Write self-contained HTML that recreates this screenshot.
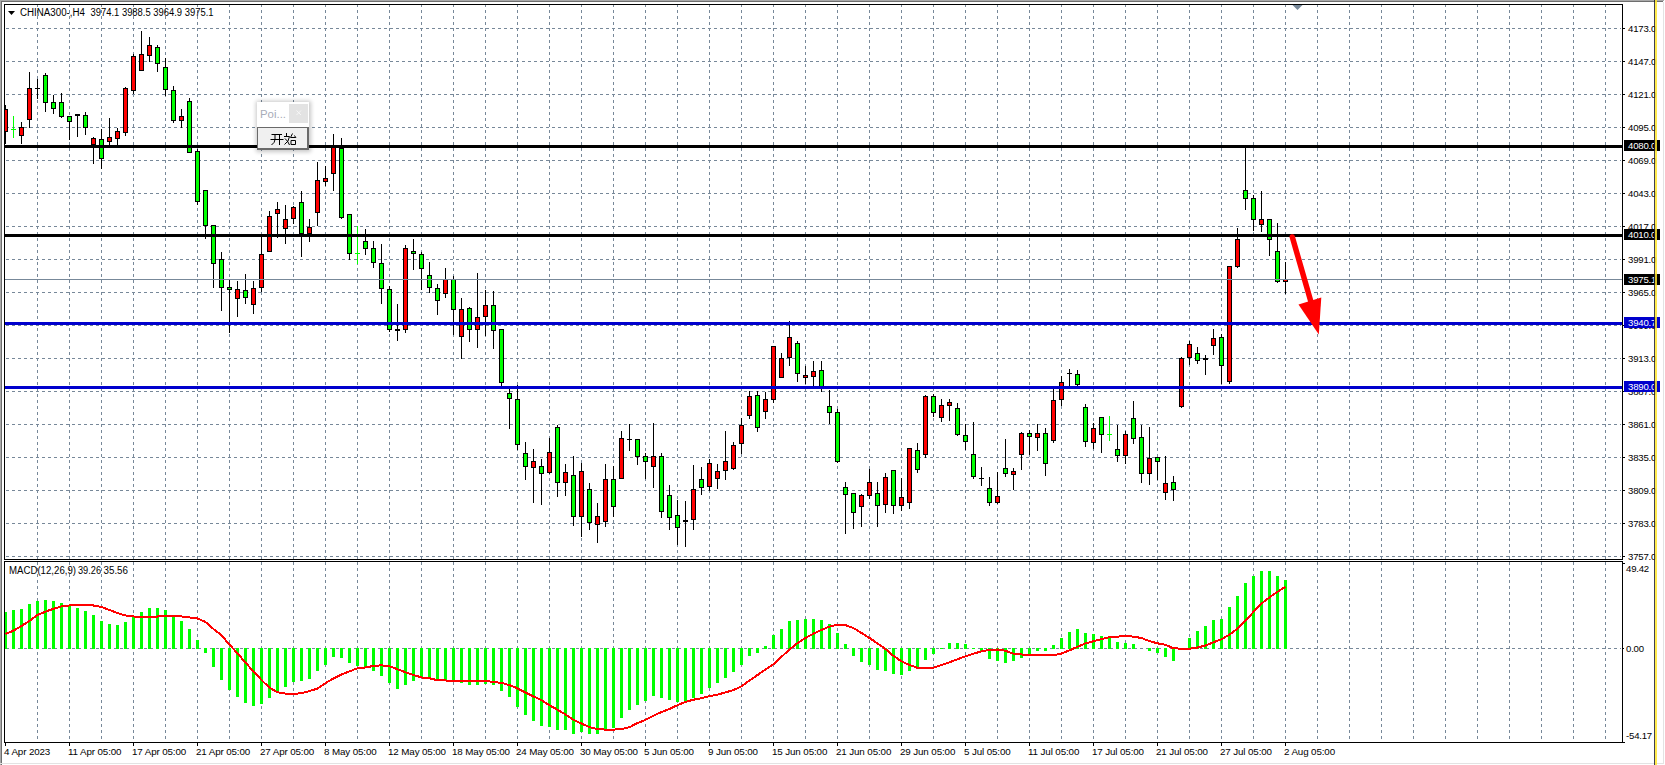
<!DOCTYPE html><html><head><meta charset="utf-8"><style>html,body{margin:0;padding:0;background:#fff;overflow:hidden}</style></head><body><svg width="1665" height="765" viewBox="0 0 1665 765" shape-rendering="crispEdges" style="display:block">
<rect x="0" y="0" width="1665" height="765" fill="#ffffff"/>
<rect x="0" y="0" width="1664" height="1" fill="#a9a9a9"/>
<rect x="0" y="1" width="1663" height="1" fill="#6e6e6e"/>
<rect x="0" y="0" width="1" height="765" fill="#a9a9a9"/>
<rect x="1" y="1" width="1" height="764" fill="#6e6e6e"/>
<rect x="1663" y="2" width="1" height="762" fill="#e3e3e3"/>
<rect x="0" y="763" width="1664" height="1" fill="#e3e3e3"/>
<path d="M37.5 4V559M69.5 4V559M101.5 4V559M133.5 4V559M165.5 4V559M197.5 4V559M229.5 4V559M261.5 4V559M293.5 4V559M325.5 4V559M357.5 4V559M389.5 4V559M421.5 4V559M453.5 4V559M485.5 4V559M517.5 4V559M549.5 4V559M581.5 4V559M613.5 4V559M645.5 4V559M677.5 4V559M709.5 4V559M741.5 4V559M773.5 4V559M805.5 4V559M837.5 4V559M869.5 4V559M901.5 4V559M933.5 4V559M965.5 4V559M997.5 4V559M1029.5 4V559M1061.5 4V559M1093.5 4V559M1125.5 4V559M1157.5 4V559M1189.5 4V559M1221.5 4V559M1253.5 4V559M1285.5 4V559M1317.5 4V559M1349.5 4V559M1381.5 4V559M1413.5 4V559M1445.5 4V559M1477.5 4V559M1509.5 4V559M1541.5 4V559M1573.5 4V559M1605.5 4V559" stroke="#778899" stroke-width="1" stroke-dasharray="3 3" fill="none"/>
<path d="M37.5 562V742M69.5 562V742M101.5 562V742M133.5 562V742M165.5 562V742M197.5 562V742M229.5 562V742M261.5 562V742M293.5 562V742M325.5 562V742M357.5 562V742M389.5 562V742M421.5 562V742M453.5 562V742M485.5 562V742M517.5 562V742M549.5 562V742M581.5 562V742M613.5 562V742M645.5 562V742M677.5 562V742M709.5 562V742M741.5 562V742M773.5 562V742M805.5 562V742M837.5 562V742M869.5 562V742M901.5 562V742M933.5 562V742M965.5 562V742M997.5 562V742M1029.5 562V742M1061.5 562V742M1093.5 562V742M1125.5 562V742M1157.5 562V742M1189.5 562V742M1221.5 562V742M1253.5 562V742M1285.5 562V742M1317.5 562V742M1349.5 562V742M1381.5 562V742M1413.5 562V742M1445.5 562V742M1477.5 562V742M1509.5 562V742M1541.5 562V742M1573.5 562V742M1605.5 562V742" stroke="#778899" stroke-width="1" stroke-dasharray="3 3" fill="none"/>
<clipPath id="cm"><rect x="5" y="5" width="1617" height="554"/></clipPath>
<clipPath id="cd"><rect x="5" y="562" width="1617" height="180"/></clipPath>
<g clip-path="url(#cm)"><path d="M0 28.5H1621M0 61.5H1621M0 94.5H1621M0 127.5H1621M0 160.5H1621M0 193.5H1621M0 226.5H1621M0 259.5H1621M0 292.5H1621M0 325.5H1621M0 358.5H1621M0 391.5H1621M0 424.5H1621M0 457.5H1621M0 490.5H1621M0 523.5H1621M0 556.5H1621" stroke="#778899" stroke-width="1" stroke-dasharray="3 3" fill="none"/></g>
<g clip-path="url(#cd)"><path d="M0 648.5H1621" stroke="#778899" stroke-width="1" stroke-dasharray="3 3" fill="none"/></g>
<g clip-path="url(#cm)"><rect x="5" y="105" width="1" height="39" fill="#000"/><rect x="3" y="109" width="5" height="23" fill="#000"/><rect x="4" y="110" width="3" height="21" fill="#ff0000"/><rect x="13" y="116" width="1" height="22" fill="#00ff00"/><rect x="11" y="129" width="5" height="1" fill="#00ff00"/><rect x="21" y="122" width="1" height="22" fill="#000"/><rect x="19" y="127" width="5" height="9" fill="#000"/><rect x="20" y="128" width="3" height="7" fill="#ff0000"/><rect x="29" y="72" width="1" height="56" fill="#000"/><rect x="27" y="88" width="5" height="32" fill="#000"/><rect x="28" y="89" width="3" height="30" fill="#ff0000"/><rect x="37" y="79" width="1" height="20" fill="#000"/><rect x="35" y="88" width="5" height="1" fill="#000"/><rect x="45" y="73" width="1" height="39" fill="#000"/><rect x="43" y="75" width="5" height="28" fill="#000"/><rect x="44" y="76" width="3" height="26" fill="#00ff00"/><rect x="53" y="95" width="1" height="19" fill="#000"/><rect x="51" y="102" width="5" height="7" fill="#000"/><rect x="52" y="103" width="3" height="5" fill="#00ff00"/><rect x="61" y="93" width="1" height="25" fill="#000"/><rect x="59" y="102" width="5" height="15" fill="#000"/><rect x="60" y="103" width="3" height="13" fill="#00ff00"/><rect x="69" y="116" width="1" height="24" fill="#000"/><rect x="67" y="116" width="5" height="6" fill="#000"/><rect x="68" y="117" width="3" height="4" fill="#00ff00"/><rect x="77" y="114" width="1" height="23" fill="#000"/><rect x="75" y="114" width="5" height="2" fill="#000"/><rect x="85" y="112" width="1" height="23" fill="#000"/><rect x="83" y="115" width="5" height="13" fill="#000"/><rect x="84" y="116" width="3" height="11" fill="#00ff00"/><rect x="93" y="137" width="1" height="27" fill="#000"/><rect x="91" y="138" width="5" height="7" fill="#000"/><rect x="92" y="139" width="3" height="5" fill="#ff0000"/><rect x="101" y="129" width="1" height="40" fill="#000"/><rect x="99" y="139" width="5" height="20" fill="#000"/><rect x="100" y="140" width="3" height="18" fill="#00ff00"/><rect x="109" y="118" width="1" height="28" fill="#000"/><rect x="107" y="137" width="5" height="5" fill="#000"/><rect x="108" y="138" width="3" height="3" fill="#ff0000"/><rect x="117" y="128" width="1" height="18" fill="#000"/><rect x="115" y="131" width="5" height="8" fill="#000"/><rect x="116" y="132" width="3" height="6" fill="#ff0000"/><rect x="125" y="87" width="1" height="49" fill="#000"/><rect x="123" y="88" width="5" height="45" fill="#000"/><rect x="124" y="89" width="3" height="43" fill="#ff0000"/><rect x="133" y="54" width="1" height="40" fill="#000"/><rect x="131" y="56" width="5" height="35" fill="#000"/><rect x="132" y="57" width="3" height="33" fill="#ff0000"/><rect x="141" y="31" width="1" height="40" fill="#000"/><rect x="139" y="54" width="5" height="17" fill="#000"/><rect x="140" y="55" width="3" height="15" fill="#ff0000"/><rect x="149" y="37" width="1" height="25" fill="#000"/><rect x="147" y="45" width="5" height="11" fill="#000"/><rect x="148" y="46" width="3" height="9" fill="#ff0000"/><rect x="157" y="45" width="1" height="27" fill="#000"/><rect x="155" y="47" width="5" height="17" fill="#000"/><rect x="156" y="48" width="3" height="15" fill="#00ff00"/><rect x="165" y="58" width="1" height="38" fill="#000"/><rect x="163" y="67" width="5" height="23" fill="#000"/><rect x="164" y="68" width="3" height="21" fill="#00ff00"/><rect x="173" y="86" width="1" height="37" fill="#000"/><rect x="171" y="90" width="5" height="31" fill="#000"/><rect x="172" y="91" width="3" height="29" fill="#00ff00"/><rect x="181" y="109" width="1" height="19" fill="#000"/><rect x="179" y="116" width="5" height="5" fill="#000"/><rect x="180" y="117" width="3" height="3" fill="#ff0000"/><rect x="189" y="98" width="1" height="55" fill="#000"/><rect x="187" y="101" width="5" height="52" fill="#000"/><rect x="188" y="102" width="3" height="50" fill="#00ff00"/><rect x="197" y="149" width="1" height="56" fill="#000"/><rect x="195" y="151" width="5" height="51" fill="#000"/><rect x="196" y="152" width="3" height="49" fill="#00ff00"/><rect x="205" y="190" width="1" height="49" fill="#000"/><rect x="203" y="190" width="5" height="36" fill="#000"/><rect x="204" y="191" width="3" height="34" fill="#00ff00"/><rect x="213" y="225" width="1" height="63" fill="#000"/><rect x="211" y="225" width="5" height="39" fill="#000"/><rect x="212" y="226" width="3" height="37" fill="#00ff00"/><rect x="221" y="252" width="1" height="59" fill="#000"/><rect x="219" y="259" width="5" height="29" fill="#000"/><rect x="220" y="260" width="3" height="27" fill="#00ff00"/><rect x="229" y="280" width="1" height="53" fill="#000"/><rect x="227" y="287" width="5" height="3" fill="#000"/><rect x="228" y="288" width="3" height="1" fill="#00ff00"/><rect x="237" y="281" width="1" height="36" fill="#000"/><rect x="235" y="289" width="5" height="10" fill="#000"/><rect x="236" y="290" width="3" height="8" fill="#ff0000"/><rect x="245" y="274" width="1" height="30" fill="#000"/><rect x="243" y="290" width="5" height="8" fill="#000"/><rect x="244" y="291" width="3" height="6" fill="#00ff00"/><rect x="253" y="281" width="1" height="33" fill="#000"/><rect x="251" y="288" width="5" height="17" fill="#000"/><rect x="252" y="289" width="3" height="15" fill="#ff0000"/><rect x="261" y="236" width="1" height="56" fill="#000"/><rect x="259" y="254" width="5" height="34" fill="#000"/><rect x="260" y="255" width="3" height="32" fill="#ff0000"/><rect x="269" y="211" width="1" height="41" fill="#000"/><rect x="267" y="216" width="5" height="36" fill="#000"/><rect x="268" y="217" width="3" height="34" fill="#ff0000"/><rect x="277" y="202" width="1" height="36" fill="#000"/><rect x="275" y="209" width="5" height="5" fill="#000"/><rect x="276" y="210" width="3" height="3" fill="#ff0000"/><rect x="285" y="205" width="1" height="39" fill="#000"/><rect x="283" y="219" width="5" height="10" fill="#000"/><rect x="284" y="220" width="3" height="8" fill="#ff0000"/><rect x="293" y="206" width="1" height="18" fill="#000"/><rect x="291" y="207" width="5" height="12" fill="#000"/><rect x="292" y="208" width="3" height="10" fill="#ff0000"/><rect x="301" y="191" width="1" height="66" fill="#000"/><rect x="299" y="202" width="5" height="32" fill="#000"/><rect x="300" y="203" width="3" height="30" fill="#00ff00"/><rect x="309" y="219" width="1" height="23" fill="#000"/><rect x="307" y="227" width="5" height="7" fill="#000"/><rect x="308" y="228" width="3" height="5" fill="#ff0000"/><rect x="317" y="162" width="1" height="64" fill="#000"/><rect x="315" y="180" width="5" height="33" fill="#000"/><rect x="316" y="181" width="3" height="31" fill="#ff0000"/><rect x="325" y="166" width="1" height="20" fill="#000"/><rect x="323" y="178" width="5" height="4" fill="#000"/><rect x="324" y="179" width="3" height="2" fill="#ff0000"/><rect x="333" y="134" width="1" height="57" fill="#000"/><rect x="331" y="147" width="5" height="27" fill="#000"/><rect x="332" y="148" width="3" height="25" fill="#ff0000"/><rect x="341" y="138" width="1" height="81" fill="#000"/><rect x="339" y="148" width="5" height="70" fill="#000"/><rect x="340" y="149" width="3" height="68" fill="#00ff00"/><rect x="349" y="214" width="1" height="46" fill="#000"/><rect x="347" y="214" width="5" height="40" fill="#000"/><rect x="348" y="215" width="3" height="38" fill="#00ff00"/><rect x="357" y="226" width="1" height="38" fill="#00ff00"/><rect x="355" y="253" width="5" height="1" fill="#00ff00"/><rect x="365" y="229" width="1" height="26" fill="#000"/><rect x="363" y="241" width="5" height="8" fill="#000"/><rect x="364" y="242" width="3" height="6" fill="#00ff00"/><rect x="373" y="241" width="1" height="27" fill="#000"/><rect x="371" y="248" width="5" height="15" fill="#000"/><rect x="372" y="249" width="3" height="13" fill="#00ff00"/><rect x="381" y="244" width="1" height="60" fill="#000"/><rect x="379" y="263" width="5" height="26" fill="#000"/><rect x="380" y="264" width="3" height="24" fill="#00ff00"/><rect x="389" y="286" width="1" height="46" fill="#000"/><rect x="387" y="289" width="5" height="41" fill="#000"/><rect x="388" y="290" width="3" height="39" fill="#00ff00"/><rect x="397" y="304" width="1" height="37" fill="#000"/><rect x="395" y="329" width="5" height="2" fill="#000"/><rect x="405" y="245" width="1" height="88" fill="#000"/><rect x="403" y="248" width="5" height="82" fill="#000"/><rect x="404" y="249" width="3" height="80" fill="#ff0000"/><rect x="413" y="239" width="1" height="31" fill="#000"/><rect x="411" y="251" width="5" height="3" fill="#000"/><rect x="412" y="252" width="3" height="1" fill="#00ff00"/><rect x="421" y="252" width="1" height="38" fill="#000"/><rect x="419" y="254" width="5" height="15" fill="#000"/><rect x="420" y="255" width="3" height="13" fill="#00ff00"/><rect x="429" y="262" width="1" height="31" fill="#000"/><rect x="427" y="275" width="5" height="13" fill="#000"/><rect x="428" y="276" width="3" height="11" fill="#00ff00"/><rect x="437" y="284" width="1" height="31" fill="#000"/><rect x="435" y="288" width="5" height="13" fill="#000"/><rect x="436" y="289" width="3" height="11" fill="#00ff00"/><rect x="445" y="268" width="1" height="30" fill="#000"/><rect x="443" y="279" width="5" height="15" fill="#000"/><rect x="444" y="280" width="3" height="13" fill="#ff0000"/><rect x="453" y="276" width="1" height="59" fill="#000"/><rect x="451" y="279" width="5" height="31" fill="#000"/><rect x="452" y="280" width="3" height="29" fill="#00ff00"/><rect x="461" y="298" width="1" height="61" fill="#000"/><rect x="459" y="309" width="5" height="28" fill="#000"/><rect x="460" y="310" width="3" height="26" fill="#ff0000"/><rect x="469" y="307" width="1" height="35" fill="#000"/><rect x="467" y="308" width="5" height="22" fill="#000"/><rect x="468" y="309" width="3" height="20" fill="#00ff00"/><rect x="477" y="273" width="1" height="75" fill="#000"/><rect x="475" y="317" width="5" height="13" fill="#000"/><rect x="476" y="318" width="3" height="11" fill="#ff0000"/><rect x="485" y="290" width="1" height="46" fill="#000"/><rect x="483" y="305" width="5" height="12" fill="#000"/><rect x="484" y="306" width="3" height="10" fill="#ff0000"/><rect x="493" y="291" width="1" height="58" fill="#000"/><rect x="491" y="305" width="5" height="26" fill="#000"/><rect x="492" y="306" width="3" height="24" fill="#00ff00"/><rect x="501" y="329" width="1" height="57" fill="#000"/><rect x="499" y="329" width="5" height="54" fill="#000"/><rect x="500" y="330" width="3" height="52" fill="#00ff00"/><rect x="509" y="386" width="1" height="43" fill="#000"/><rect x="507" y="393" width="5" height="6" fill="#000"/><rect x="508" y="394" width="3" height="4" fill="#00ff00"/><rect x="517" y="385" width="1" height="65" fill="#000"/><rect x="515" y="399" width="5" height="46" fill="#000"/><rect x="516" y="400" width="3" height="44" fill="#00ff00"/><rect x="525" y="442" width="1" height="38" fill="#000"/><rect x="523" y="453" width="5" height="14" fill="#000"/><rect x="524" y="454" width="3" height="12" fill="#00ff00"/><rect x="533" y="449" width="1" height="54" fill="#000"/><rect x="531" y="461" width="5" height="7" fill="#000"/><rect x="532" y="462" width="3" height="5" fill="#ff0000"/><rect x="541" y="459" width="1" height="46" fill="#000"/><rect x="539" y="466" width="5" height="8" fill="#000"/><rect x="540" y="467" width="3" height="6" fill="#00ff00"/><rect x="549" y="438" width="1" height="36" fill="#000"/><rect x="547" y="452" width="5" height="21" fill="#000"/><rect x="548" y="453" width="3" height="19" fill="#ff0000"/><rect x="557" y="425" width="1" height="72" fill="#000"/><rect x="555" y="427" width="5" height="56" fill="#000"/><rect x="556" y="428" width="3" height="54" fill="#00ff00"/><rect x="565" y="464" width="1" height="32" fill="#000"/><rect x="563" y="472" width="5" height="11" fill="#000"/><rect x="564" y="473" width="3" height="9" fill="#ff0000"/><rect x="573" y="456" width="1" height="70" fill="#000"/><rect x="571" y="475" width="5" height="42" fill="#000"/><rect x="572" y="476" width="3" height="40" fill="#00ff00"/><rect x="581" y="463" width="1" height="74" fill="#000"/><rect x="579" y="471" width="5" height="46" fill="#000"/><rect x="580" y="472" width="3" height="44" fill="#ff0000"/><rect x="589" y="483" width="1" height="47" fill="#000"/><rect x="587" y="489" width="5" height="34" fill="#000"/><rect x="588" y="490" width="3" height="32" fill="#00ff00"/><rect x="597" y="503" width="1" height="40" fill="#000"/><rect x="595" y="516" width="5" height="9" fill="#000"/><rect x="596" y="517" width="3" height="7" fill="#ff0000"/><rect x="605" y="464" width="1" height="63" fill="#000"/><rect x="603" y="479" width="5" height="43" fill="#000"/><rect x="604" y="480" width="3" height="41" fill="#ff0000"/><rect x="613" y="466" width="1" height="51" fill="#000"/><rect x="611" y="479" width="5" height="28" fill="#000"/><rect x="612" y="480" width="3" height="26" fill="#00ff00"/><rect x="621" y="431" width="1" height="48" fill="#000"/><rect x="619" y="438" width="5" height="41" fill="#000"/><rect x="620" y="439" width="3" height="39" fill="#ff0000"/><rect x="629" y="424" width="1" height="27" fill="#000"/><rect x="627" y="439" width="5" height="1" fill="#000"/><rect x="637" y="439" width="1" height="26" fill="#000"/><rect x="635" y="439" width="5" height="18" fill="#000"/><rect x="636" y="440" width="3" height="16" fill="#00ff00"/><rect x="645" y="453" width="1" height="26" fill="#000"/><rect x="643" y="456" width="5" height="6" fill="#000"/><rect x="644" y="457" width="3" height="4" fill="#00ff00"/><rect x="653" y="423" width="1" height="65" fill="#000"/><rect x="651" y="456" width="5" height="11" fill="#000"/><rect x="652" y="457" width="3" height="9" fill="#ff0000"/><rect x="661" y="453" width="1" height="65" fill="#000"/><rect x="659" y="456" width="5" height="56" fill="#000"/><rect x="660" y="457" width="3" height="54" fill="#00ff00"/><rect x="669" y="485" width="1" height="45" fill="#000"/><rect x="667" y="495" width="5" height="23" fill="#000"/><rect x="668" y="496" width="3" height="21" fill="#00ff00"/><rect x="677" y="500" width="1" height="45" fill="#000"/><rect x="675" y="515" width="5" height="13" fill="#000"/><rect x="676" y="516" width="3" height="11" fill="#00ff00"/><rect x="685" y="501" width="1" height="46" fill="#000"/><rect x="683" y="520" width="5" height="2" fill="#000"/><rect x="693" y="465" width="1" height="65" fill="#000"/><rect x="691" y="489" width="5" height="31" fill="#000"/><rect x="692" y="490" width="3" height="29" fill="#ff0000"/><rect x="701" y="467" width="1" height="28" fill="#000"/><rect x="699" y="479" width="5" height="9" fill="#000"/><rect x="700" y="480" width="3" height="7" fill="#00ff00"/><rect x="709" y="459" width="1" height="32" fill="#000"/><rect x="707" y="463" width="5" height="24" fill="#000"/><rect x="708" y="464" width="3" height="22" fill="#ff0000"/><rect x="717" y="464" width="1" height="25" fill="#000"/><rect x="715" y="471" width="5" height="8" fill="#000"/><rect x="716" y="472" width="3" height="6" fill="#ff0000"/><rect x="725" y="431" width="1" height="49" fill="#000"/><rect x="723" y="461" width="5" height="10" fill="#000"/><rect x="724" y="462" width="3" height="8" fill="#ff0000"/><rect x="733" y="442" width="1" height="28" fill="#000"/><rect x="731" y="445" width="5" height="24" fill="#000"/><rect x="732" y="446" width="3" height="22" fill="#ff0000"/><rect x="741" y="418" width="1" height="36" fill="#000"/><rect x="739" y="425" width="5" height="19" fill="#000"/><rect x="740" y="426" width="3" height="17" fill="#ff0000"/><rect x="749" y="391" width="1" height="28" fill="#000"/><rect x="747" y="396" width="5" height="20" fill="#000"/><rect x="748" y="397" width="3" height="18" fill="#ff0000"/><rect x="757" y="391" width="1" height="41" fill="#000"/><rect x="755" y="395" width="5" height="33" fill="#000"/><rect x="756" y="396" width="3" height="31" fill="#00ff00"/><rect x="765" y="392" width="1" height="27" fill="#000"/><rect x="763" y="399" width="5" height="13" fill="#000"/><rect x="764" y="400" width="3" height="11" fill="#ff0000"/><rect x="773" y="346" width="1" height="57" fill="#000"/><rect x="771" y="346" width="5" height="54" fill="#000"/><rect x="772" y="347" width="3" height="52" fill="#ff0000"/><rect x="781" y="353" width="1" height="25" fill="#000"/><rect x="779" y="358" width="5" height="20" fill="#000"/><rect x="780" y="359" width="3" height="18" fill="#ff0000"/><rect x="789" y="321" width="1" height="45" fill="#000"/><rect x="787" y="337" width="5" height="21" fill="#000"/><rect x="788" y="338" width="3" height="19" fill="#ff0000"/><rect x="797" y="341" width="1" height="41" fill="#000"/><rect x="795" y="343" width="5" height="31" fill="#000"/><rect x="796" y="344" width="3" height="29" fill="#00ff00"/><rect x="805" y="366" width="1" height="18" fill="#000"/><rect x="803" y="375" width="5" height="3" fill="#000"/><rect x="804" y="376" width="3" height="1" fill="#ff0000"/><rect x="813" y="361" width="1" height="27" fill="#000"/><rect x="811" y="371" width="5" height="6" fill="#000"/><rect x="812" y="372" width="3" height="4" fill="#ff0000"/><rect x="821" y="361" width="1" height="31" fill="#000"/><rect x="819" y="370" width="5" height="17" fill="#000"/><rect x="820" y="371" width="3" height="15" fill="#00ff00"/><rect x="829" y="390" width="1" height="34" fill="#000"/><rect x="827" y="406" width="5" height="7" fill="#000"/><rect x="828" y="407" width="3" height="5" fill="#00ff00"/><rect x="837" y="409" width="1" height="54" fill="#000"/><rect x="835" y="412" width="5" height="50" fill="#000"/><rect x="836" y="413" width="3" height="48" fill="#00ff00"/><rect x="845" y="482" width="1" height="52" fill="#000"/><rect x="843" y="487" width="5" height="8" fill="#000"/><rect x="844" y="488" width="3" height="6" fill="#00ff00"/><rect x="853" y="493" width="1" height="36" fill="#000"/><rect x="851" y="493" width="5" height="20" fill="#000"/><rect x="852" y="494" width="3" height="18" fill="#00ff00"/><rect x="861" y="494" width="1" height="33" fill="#000"/><rect x="859" y="495" width="5" height="12" fill="#000"/><rect x="860" y="496" width="3" height="10" fill="#ff0000"/><rect x="869" y="469" width="1" height="30" fill="#000"/><rect x="867" y="482" width="5" height="14" fill="#000"/><rect x="868" y="483" width="3" height="12" fill="#ff0000"/><rect x="877" y="482" width="1" height="45" fill="#000"/><rect x="875" y="493" width="5" height="13" fill="#000"/><rect x="876" y="494" width="3" height="11" fill="#00ff00"/><rect x="885" y="473" width="1" height="40" fill="#000"/><rect x="883" y="477" width="5" height="28" fill="#000"/><rect x="884" y="478" width="3" height="26" fill="#ff0000"/><rect x="893" y="470" width="1" height="44" fill="#000"/><rect x="891" y="470" width="5" height="36" fill="#000"/><rect x="892" y="471" width="3" height="34" fill="#00ff00"/><rect x="901" y="478" width="1" height="33" fill="#000"/><rect x="899" y="497" width="5" height="9" fill="#000"/><rect x="900" y="498" width="3" height="7" fill="#ff0000"/><rect x="909" y="448" width="1" height="61" fill="#000"/><rect x="907" y="448" width="5" height="55" fill="#000"/><rect x="908" y="449" width="3" height="53" fill="#ff0000"/><rect x="917" y="443" width="1" height="30" fill="#000"/><rect x="915" y="450" width="5" height="20" fill="#000"/><rect x="916" y="451" width="3" height="18" fill="#00ff00"/><rect x="925" y="395" width="1" height="63" fill="#000"/><rect x="923" y="396" width="5" height="59" fill="#000"/><rect x="924" y="397" width="3" height="57" fill="#ff0000"/><rect x="933" y="394" width="1" height="23" fill="#000"/><rect x="931" y="396" width="5" height="17" fill="#000"/><rect x="932" y="397" width="3" height="15" fill="#00ff00"/><rect x="941" y="399" width="1" height="23" fill="#000"/><rect x="939" y="405" width="5" height="13" fill="#000"/><rect x="940" y="406" width="3" height="11" fill="#ff0000"/><rect x="949" y="399" width="1" height="22" fill="#000"/><rect x="947" y="402" width="5" height="4" fill="#000"/><rect x="948" y="403" width="3" height="2" fill="#ff0000"/><rect x="957" y="403" width="1" height="33" fill="#000"/><rect x="955" y="408" width="5" height="27" fill="#000"/><rect x="956" y="409" width="3" height="25" fill="#00ff00"/><rect x="965" y="424" width="1" height="26" fill="#000"/><rect x="963" y="435" width="5" height="7" fill="#000"/><rect x="964" y="436" width="3" height="5" fill="#00ff00"/><rect x="973" y="422" width="1" height="57" fill="#000"/><rect x="971" y="454" width="5" height="23" fill="#000"/><rect x="972" y="455" width="3" height="21" fill="#00ff00"/><rect x="981" y="467" width="1" height="19" fill="#000"/><rect x="979" y="478" width="5" height="1" fill="#000"/><rect x="989" y="477" width="1" height="29" fill="#000"/><rect x="987" y="488" width="5" height="15" fill="#000"/><rect x="988" y="489" width="3" height="13" fill="#00ff00"/><rect x="997" y="472" width="1" height="32" fill="#000"/><rect x="995" y="496" width="5" height="7" fill="#000"/><rect x="996" y="497" width="3" height="5" fill="#ff0000"/><rect x="1005" y="439" width="1" height="38" fill="#000"/><rect x="1003" y="468" width="5" height="6" fill="#000"/><rect x="1004" y="469" width="3" height="4" fill="#00ff00"/><rect x="1013" y="468" width="1" height="22" fill="#000"/><rect x="1011" y="471" width="5" height="4" fill="#000"/><rect x="1012" y="472" width="3" height="2" fill="#ff0000"/><rect x="1021" y="432" width="1" height="38" fill="#000"/><rect x="1019" y="433" width="5" height="22" fill="#000"/><rect x="1020" y="434" width="3" height="20" fill="#ff0000"/><rect x="1029" y="430" width="1" height="25" fill="#000"/><rect x="1027" y="433" width="5" height="4" fill="#000"/><rect x="1028" y="434" width="3" height="2" fill="#00ff00"/><rect x="1037" y="424" width="1" height="27" fill="#000"/><rect x="1035" y="433" width="5" height="5" fill="#000"/><rect x="1036" y="434" width="3" height="3" fill="#ff0000"/><rect x="1045" y="428" width="1" height="48" fill="#000"/><rect x="1043" y="433" width="5" height="31" fill="#000"/><rect x="1044" y="434" width="3" height="29" fill="#00ff00"/><rect x="1053" y="388" width="1" height="55" fill="#000"/><rect x="1051" y="400" width="5" height="41" fill="#000"/><rect x="1052" y="401" width="3" height="39" fill="#ff0000"/><rect x="1061" y="376" width="1" height="30" fill="#000"/><rect x="1059" y="382" width="5" height="18" fill="#000"/><rect x="1060" y="383" width="3" height="16" fill="#ff0000"/><rect x="1069" y="369" width="1" height="18" fill="#000"/><rect x="1067" y="373" width="5" height="1" fill="#000"/><rect x="1077" y="370" width="1" height="17" fill="#000"/><rect x="1075" y="374" width="5" height="11" fill="#000"/><rect x="1076" y="375" width="3" height="9" fill="#00ff00"/><rect x="1085" y="404" width="1" height="43" fill="#000"/><rect x="1083" y="407" width="5" height="35" fill="#000"/><rect x="1084" y="408" width="3" height="33" fill="#00ff00"/><rect x="1093" y="423" width="1" height="26" fill="#000"/><rect x="1091" y="428" width="5" height="15" fill="#000"/><rect x="1092" y="429" width="3" height="13" fill="#ff0000"/><rect x="1101" y="417" width="1" height="36" fill="#000"/><rect x="1099" y="417" width="5" height="18" fill="#000"/><rect x="1100" y="418" width="3" height="16" fill="#00ff00"/><rect x="1109" y="416" width="1" height="25" fill="#00ff00"/><rect x="1107" y="434" width="5" height="1" fill="#00ff00"/><rect x="1117" y="425" width="1" height="37" fill="#000"/><rect x="1115" y="449" width="5" height="7" fill="#000"/><rect x="1116" y="450" width="3" height="5" fill="#00ff00"/><rect x="1125" y="431" width="1" height="33" fill="#000"/><rect x="1123" y="434" width="5" height="22" fill="#000"/><rect x="1124" y="435" width="3" height="20" fill="#ff0000"/><rect x="1133" y="401" width="1" height="43" fill="#000"/><rect x="1131" y="418" width="5" height="21" fill="#000"/><rect x="1132" y="419" width="3" height="19" fill="#00ff00"/><rect x="1141" y="425" width="1" height="58" fill="#000"/><rect x="1139" y="437" width="5" height="37" fill="#000"/><rect x="1140" y="438" width="3" height="35" fill="#00ff00"/><rect x="1149" y="427" width="1" height="58" fill="#000"/><rect x="1147" y="458" width="5" height="16" fill="#000"/><rect x="1148" y="459" width="3" height="14" fill="#ff0000"/><rect x="1157" y="457" width="1" height="23" fill="#000"/><rect x="1155" y="457" width="5" height="5" fill="#000"/><rect x="1156" y="458" width="3" height="3" fill="#00ff00"/><rect x="1165" y="456" width="1" height="44" fill="#000"/><rect x="1163" y="483" width="5" height="10" fill="#000"/><rect x="1164" y="484" width="3" height="8" fill="#ff0000"/><rect x="1173" y="476" width="1" height="25" fill="#000"/><rect x="1171" y="482" width="5" height="8" fill="#000"/><rect x="1172" y="483" width="3" height="6" fill="#00ff00"/><rect x="1181" y="357" width="1" height="51" fill="#000"/><rect x="1179" y="358" width="5" height="49" fill="#000"/><rect x="1180" y="359" width="3" height="47" fill="#ff0000"/><rect x="1189" y="341" width="1" height="24" fill="#000"/><rect x="1187" y="344" width="5" height="14" fill="#000"/><rect x="1188" y="345" width="3" height="12" fill="#ff0000"/><rect x="1197" y="347" width="1" height="17" fill="#000"/><rect x="1195" y="353" width="5" height="8" fill="#000"/><rect x="1196" y="354" width="3" height="6" fill="#00ff00"/><rect x="1205" y="355" width="1" height="20" fill="#000"/><rect x="1203" y="358" width="5" height="2" fill="#000"/><rect x="1213" y="329" width="1" height="26" fill="#000"/><rect x="1211" y="338" width="5" height="8" fill="#000"/><rect x="1212" y="339" width="3" height="6" fill="#ff0000"/><rect x="1221" y="334" width="1" height="50" fill="#000"/><rect x="1219" y="337" width="5" height="29" fill="#000"/><rect x="1220" y="338" width="3" height="27" fill="#00ff00"/><rect x="1229" y="266" width="1" height="118" fill="#000"/><rect x="1227" y="266" width="5" height="116" fill="#000"/><rect x="1228" y="267" width="3" height="114" fill="#ff0000"/><rect x="1237" y="228" width="1" height="40" fill="#000"/><rect x="1235" y="239" width="5" height="28" fill="#000"/><rect x="1236" y="240" width="3" height="26" fill="#ff0000"/><rect x="1245" y="147" width="1" height="63" fill="#000"/><rect x="1243" y="190" width="5" height="9" fill="#000"/><rect x="1244" y="191" width="3" height="7" fill="#00ff00"/><rect x="1253" y="195" width="1" height="36" fill="#000"/><rect x="1251" y="198" width="5" height="22" fill="#000"/><rect x="1252" y="199" width="3" height="20" fill="#00ff00"/><rect x="1261" y="191" width="1" height="41" fill="#000"/><rect x="1259" y="219" width="5" height="6" fill="#000"/><rect x="1260" y="220" width="3" height="4" fill="#ff0000"/><rect x="1269" y="219" width="1" height="37" fill="#000"/><rect x="1267" y="219" width="5" height="21" fill="#000"/><rect x="1268" y="220" width="3" height="19" fill="#00ff00"/><rect x="1277" y="223" width="1" height="60" fill="#000"/><rect x="1275" y="251" width="5" height="31" fill="#000"/><rect x="1276" y="252" width="3" height="29" fill="#00ff00"/><rect x="1285" y="262" width="1" height="32" fill="#000"/><rect x="1283" y="279" width="5" height="3" fill="#000"/><rect x="1284" y="280" width="3" height="1" fill="#ff0000"/></g>
<rect x="5" y="145" width="1617" height="3" fill="#000"/>
<rect x="5" y="234" width="1617" height="3" fill="#000"/>
<rect x="5" y="279" width="1617" height="1" fill="#778899"/>
<rect x="5" y="322" width="1617" height="3" fill="#0000cd"/>
<rect x="5" y="386" width="1617" height="3" fill="#0000cd"/>
<g shape-rendering="geometricPrecision"><path d="M1292.3 237 L1311 302" stroke="#ff0000" stroke-width="5.5" stroke-linecap="round" fill="none"/><path d="M1298.5 304.5 L1318.8 334.5 L1321.3 297.5 Z" fill="#ff0000"/></g>
<g clip-path="url(#cd)"><rect x="4" y="612" width="3" height="37" fill="#00ff00"/><rect x="12" y="610" width="3" height="39" fill="#00ff00"/><rect x="20" y="609" width="3" height="40" fill="#00ff00"/><rect x="28" y="604" width="3" height="45" fill="#00ff00"/><rect x="36" y="601" width="3" height="48" fill="#00ff00"/><rect x="44" y="600" width="3" height="49" fill="#00ff00"/><rect x="52" y="601" width="3" height="48" fill="#00ff00"/><rect x="60" y="603" width="3" height="46" fill="#00ff00"/><rect x="68" y="605" width="3" height="44" fill="#00ff00"/><rect x="76" y="608" width="3" height="41" fill="#00ff00"/><rect x="84" y="611" width="3" height="38" fill="#00ff00"/><rect x="92" y="615" width="3" height="34" fill="#00ff00"/><rect x="100" y="621" width="3" height="28" fill="#00ff00"/><rect x="108" y="624" width="3" height="25" fill="#00ff00"/><rect x="116" y="625" width="3" height="24" fill="#00ff00"/><rect x="124" y="622" width="3" height="27" fill="#00ff00"/><rect x="132" y="617" width="3" height="32" fill="#00ff00"/><rect x="140" y="612" width="3" height="37" fill="#00ff00"/><rect x="148" y="608" width="3" height="41" fill="#00ff00"/><rect x="156" y="608" width="3" height="41" fill="#00ff00"/><rect x="164" y="610" width="3" height="39" fill="#00ff00"/><rect x="172" y="617" width="3" height="32" fill="#00ff00"/><rect x="180" y="621" width="3" height="28" fill="#00ff00"/><rect x="188" y="629" width="3" height="20" fill="#00ff00"/><rect x="196" y="640" width="3" height="9" fill="#00ff00"/><rect x="204" y="648" width="3" height="5" fill="#00ff00"/><rect x="212" y="648" width="3" height="19" fill="#00ff00"/><rect x="220" y="648" width="3" height="32" fill="#00ff00"/><rect x="228" y="648" width="3" height="42" fill="#00ff00"/><rect x="236" y="648" width="3" height="49" fill="#00ff00"/><rect x="244" y="648" width="3" height="55" fill="#00ff00"/><rect x="252" y="648" width="3" height="58" fill="#00ff00"/><rect x="260" y="648" width="3" height="56" fill="#00ff00"/><rect x="268" y="648" width="3" height="50" fill="#00ff00"/><rect x="276" y="648" width="3" height="43" fill="#00ff00"/><rect x="284" y="648" width="3" height="39" fill="#00ff00"/><rect x="292" y="648" width="3" height="34" fill="#00ff00"/><rect x="300" y="648" width="3" height="33" fill="#00ff00"/><rect x="308" y="648" width="3" height="31" fill="#00ff00"/><rect x="316" y="648" width="3" height="23" fill="#00ff00"/><rect x="324" y="648" width="3" height="17" fill="#00ff00"/><rect x="332" y="648" width="3" height="9" fill="#00ff00"/><rect x="340" y="648" width="3" height="10" fill="#00ff00"/><rect x="348" y="648" width="3" height="15" fill="#00ff00"/><rect x="356" y="648" width="3" height="18" fill="#00ff00"/><rect x="364" y="648" width="3" height="19" fill="#00ff00"/><rect x="372" y="648" width="3" height="23" fill="#00ff00"/><rect x="380" y="648" width="3" height="28" fill="#00ff00"/><rect x="388" y="648" width="3" height="35" fill="#00ff00"/><rect x="396" y="648" width="3" height="41" fill="#00ff00"/><rect x="404" y="648" width="3" height="37" fill="#00ff00"/><rect x="412" y="648" width="3" height="33" fill="#00ff00"/><rect x="420" y="648" width="3" height="30" fill="#00ff00"/><rect x="428" y="648" width="3" height="31" fill="#00ff00"/><rect x="436" y="648" width="3" height="33" fill="#00ff00"/><rect x="444" y="648" width="3" height="33" fill="#00ff00"/><rect x="452" y="648" width="3" height="33" fill="#00ff00"/><rect x="460" y="648" width="3" height="35" fill="#00ff00"/><rect x="468" y="648" width="3" height="37" fill="#00ff00"/><rect x="476" y="648" width="3" height="37" fill="#00ff00"/><rect x="484" y="648" width="3" height="36" fill="#00ff00"/><rect x="492" y="648" width="3" height="37" fill="#00ff00"/><rect x="500" y="648" width="3" height="43" fill="#00ff00"/><rect x="508" y="648" width="3" height="49" fill="#00ff00"/><rect x="516" y="648" width="3" height="59" fill="#00ff00"/><rect x="524" y="648" width="3" height="67" fill="#00ff00"/><rect x="532" y="648" width="3" height="73" fill="#00ff00"/><rect x="540" y="648" width="3" height="78" fill="#00ff00"/><rect x="548" y="648" width="3" height="79" fill="#00ff00"/><rect x="556" y="648" width="3" height="82" fill="#00ff00"/><rect x="564" y="648" width="3" height="82" fill="#00ff00"/><rect x="572" y="648" width="3" height="86" fill="#00ff00"/><rect x="580" y="648" width="3" height="84" fill="#00ff00"/><rect x="588" y="648" width="3" height="86" fill="#00ff00"/><rect x="596" y="648" width="3" height="86" fill="#00ff00"/><rect x="604" y="648" width="3" height="81" fill="#00ff00"/><rect x="612" y="648" width="3" height="80" fill="#00ff00"/><rect x="620" y="648" width="3" height="70" fill="#00ff00"/><rect x="628" y="648" width="3" height="62" fill="#00ff00"/><rect x="636" y="648" width="3" height="57" fill="#00ff00"/><rect x="644" y="648" width="3" height="53" fill="#00ff00"/><rect x="652" y="648" width="3" height="48" fill="#00ff00"/><rect x="660" y="648" width="3" height="50" fill="#00ff00"/><rect x="668" y="648" width="3" height="52" fill="#00ff00"/><rect x="676" y="648" width="3" height="54" fill="#00ff00"/><rect x="684" y="648" width="3" height="53" fill="#00ff00"/><rect x="692" y="648" width="3" height="50" fill="#00ff00"/><rect x="700" y="648" width="3" height="46" fill="#00ff00"/><rect x="708" y="648" width="3" height="40" fill="#00ff00"/><rect x="716" y="648" width="3" height="35" fill="#00ff00"/><rect x="724" y="648" width="3" height="30" fill="#00ff00"/><rect x="732" y="648" width="3" height="24" fill="#00ff00"/><rect x="740" y="648" width="3" height="17" fill="#00ff00"/><rect x="748" y="648" width="3" height="8" fill="#00ff00"/><rect x="756" y="648" width="3" height="5" fill="#00ff00"/><rect x="764" y="646" width="3" height="3" fill="#00ff00"/><rect x="772" y="635" width="3" height="14" fill="#00ff00"/><rect x="780" y="629" width="3" height="20" fill="#00ff00"/><rect x="788" y="621" width="3" height="28" fill="#00ff00"/><rect x="796" y="620" width="3" height="29" fill="#00ff00"/><rect x="804" y="619" width="3" height="30" fill="#00ff00"/><rect x="812" y="619" width="3" height="30" fill="#00ff00"/><rect x="820" y="620" width="3" height="29" fill="#00ff00"/><rect x="828" y="624" width="3" height="25" fill="#00ff00"/><rect x="836" y="633" width="3" height="16" fill="#00ff00"/><rect x="844" y="644" width="3" height="5" fill="#00ff00"/><rect x="852" y="648" width="3" height="8" fill="#00ff00"/><rect x="860" y="648" width="3" height="14" fill="#00ff00"/><rect x="868" y="648" width="3" height="17" fill="#00ff00"/><rect x="876" y="648" width="3" height="22" fill="#00ff00"/><rect x="884" y="648" width="3" height="23" fill="#00ff00"/><rect x="892" y="648" width="3" height="26" fill="#00ff00"/><rect x="900" y="648" width="3" height="27" fill="#00ff00"/><rect x="908" y="648" width="3" height="23" fill="#00ff00"/><rect x="916" y="648" width="3" height="20" fill="#00ff00"/><rect x="924" y="648" width="3" height="12" fill="#00ff00"/><rect x="932" y="648" width="3" height="6" fill="#00ff00"/><rect x="940" y="648" width="3" height="1" fill="#00ff00"/><rect x="948" y="643" width="3" height="6" fill="#00ff00"/><rect x="956" y="643" width="3" height="6" fill="#00ff00"/><rect x="964" y="644" width="3" height="5" fill="#00ff00"/><rect x="972" y="648" width="3" height="1" fill="#00ff00"/><rect x="980" y="648" width="3" height="4" fill="#00ff00"/><rect x="988" y="648" width="3" height="11" fill="#00ff00"/><rect x="996" y="648" width="3" height="13" fill="#00ff00"/><rect x="1004" y="648" width="3" height="15" fill="#00ff00"/><rect x="1012" y="648" width="3" height="13" fill="#00ff00"/><rect x="1020" y="648" width="3" height="10" fill="#00ff00"/><rect x="1028" y="648" width="3" height="6" fill="#00ff00"/><rect x="1036" y="648" width="3" height="3" fill="#00ff00"/><rect x="1044" y="648" width="3" height="3" fill="#00ff00"/><rect x="1052" y="645" width="3" height="4" fill="#00ff00"/><rect x="1060" y="638" width="3" height="11" fill="#00ff00"/><rect x="1068" y="632" width="3" height="17" fill="#00ff00"/><rect x="1076" y="629" width="3" height="20" fill="#00ff00"/><rect x="1084" y="633" width="3" height="16" fill="#00ff00"/><rect x="1092" y="634" width="3" height="15" fill="#00ff00"/><rect x="1100" y="636" width="3" height="13" fill="#00ff00"/><rect x="1108" y="638" width="3" height="11" fill="#00ff00"/><rect x="1116" y="642" width="3" height="7" fill="#00ff00"/><rect x="1124" y="643" width="3" height="6" fill="#00ff00"/><rect x="1132" y="644" width="3" height="5" fill="#00ff00"/><rect x="1148" y="648" width="3" height="3" fill="#00ff00"/><rect x="1156" y="648" width="3" height="5" fill="#00ff00"/><rect x="1164" y="648" width="3" height="9" fill="#00ff00"/><rect x="1172" y="648" width="3" height="13" fill="#00ff00"/><rect x="1188" y="638" width="3" height="11" fill="#00ff00"/><rect x="1196" y="631" width="3" height="18" fill="#00ff00"/><rect x="1204" y="626" width="3" height="23" fill="#00ff00"/><rect x="1212" y="620" width="3" height="29" fill="#00ff00"/><rect x="1220" y="619" width="3" height="30" fill="#00ff00"/><rect x="1228" y="607" width="3" height="42" fill="#00ff00"/><rect x="1236" y="596" width="3" height="53" fill="#00ff00"/><rect x="1244" y="583" width="3" height="66" fill="#00ff00"/><rect x="1252" y="576" width="3" height="73" fill="#00ff00"/><rect x="1260" y="571" width="3" height="78" fill="#00ff00"/><rect x="1268" y="571" width="3" height="78" fill="#00ff00"/><rect x="1276" y="576" width="3" height="73" fill="#00ff00"/><rect x="1284" y="580" width="3" height="69" fill="#00ff00"/></g>
<g clip-path="url(#cd)"><polyline points="5.5,634 13.5,630.6 21.5,626 29.5,620.8 37.5,615 45.5,611.6 53.5,608.8 61.5,606.4 69.5,605.5 77.5,605 85.5,605 93.5,605.5 101.5,607 109.5,610 117.5,613 125.5,615.5 133.5,616.5 141.5,616.5 149.5,616.5 157.5,616.5 165.5,616 173.5,616 181.5,616.5 189.5,617.5 197.5,618.5 205.5,622 213.5,629 221.5,635.3 229.5,644.7 237.5,653.3 245.5,662.7 253.5,671.4 261.5,680 269.5,687.8 277.5,692.2 285.5,693.6 293.5,693.8 301.5,693.3 309.5,691 317.5,688.6 325.5,683.1 333.5,678.4 341.5,674.5 349.5,671.4 357.5,668.2 365.5,667.5 373.5,665.9 381.5,665.3 389.5,666.3 397.5,669.2 405.5,672.3 413.5,675 421.5,677.4 429.5,678.3 437.5,680.2 445.5,680.5 453.5,680.5 461.5,680.5 469.5,680.5 477.5,680.5 485.5,680.9 493.5,682 501.5,682.9 509.5,685.1 517.5,688.4 525.5,692.4 533.5,696.4 541.5,700.3 549.5,705.2 557.5,709.8 565.5,714.4 573.5,719.9 581.5,723.5 589.5,727.2 597.5,729 605.5,729.6 613.5,729.6 621.5,729 629.5,727.2 637.5,723 645.5,719.9 653.5,715.7 661.5,712 669.5,708.9 677.5,705.2 685.5,701.9 693.5,699.7 701.5,698.3 709.5,696.1 717.5,694.6 725.5,692.4 733.5,690 741.5,686.4 749.5,680.5 757.5,675 765.5,669.5 773.5,664.1 781.5,656.8 789.5,649.5 797.5,643.1 805.5,638 813.5,633.6 821.5,629.9 829.5,626.6 837.5,624.8 845.5,625.1 853.5,628.1 861.5,633 869.5,638 877.5,643.4 885.5,649.1 893.5,655.9 901.5,661.4 909.5,665 917.5,667.8 925.5,667.8 933.5,667.8 941.5,665 949.5,662.3 957.5,659.3 965.5,656.3 973.5,653.7 981.5,651.3 989.5,650 997.5,649.5 1005.5,650.8 1013.5,653.7 1021.5,654.4 1029.5,655.3 1037.5,655.3 1045.5,655.3 1053.5,655.3 1061.5,653.5 1069.5,650.4 1077.5,646.7 1085.5,643.4 1093.5,641.2 1101.5,639 1109.5,637.2 1117.5,636.7 1125.5,635.8 1133.5,636.7 1141.5,638 1149.5,641.2 1157.5,643.3 1165.5,644.8 1173.5,648.3 1181.5,648.7 1189.5,648.7 1197.5,647.5 1205.5,645.5 1213.5,642.3 1221.5,639.3 1229.5,634.5 1237.5,628.7 1245.5,620.8 1253.5,611.9 1261.5,603.6 1269.5,597.3 1277.5,591.8 1285.5,586.8" stroke="#ff0000" stroke-width="2" fill="none" shape-rendering="crispEdges" stroke-linejoin="round"/></g>
<rect x="4.5" y="4.5" width="1618" height="555" stroke="#000" fill="none"/>
<rect x="4.5" y="561.5" width="1618" height="181" stroke="#000" fill="none"/>
<path d="M1292.5 5H1302.5L1297.5 10Z" fill="#778899" shape-rendering="geometricPrecision"/>
<g style="font-family:'Liberation Sans',sans-serif;font-size:9.6px;letter-spacing:-0.2px" fill="#000" shape-rendering="geometricPrecision"><rect x="1623" y="28" width="2" height="1" fill="#000"/><text x="1628" y="32">4173.0</text><rect x="1623" y="61" width="2" height="1" fill="#000"/><text x="1628" y="65">4147.0</text><rect x="1623" y="94" width="2" height="1" fill="#000"/><text x="1628" y="98">4121.0</text><rect x="1623" y="127" width="2" height="1" fill="#000"/><text x="1628" y="131">4095.0</text><rect x="1623" y="160" width="2" height="1" fill="#000"/><text x="1628" y="164">4069.0</text><rect x="1623" y="193" width="2" height="1" fill="#000"/><text x="1628" y="197">4043.0</text><rect x="1623" y="226" width="2" height="1" fill="#000"/><text x="1628" y="230">4017.0</text><rect x="1623" y="259" width="2" height="1" fill="#000"/><text x="1628" y="263">3991.0</text><rect x="1623" y="292" width="2" height="1" fill="#000"/><text x="1628" y="296">3965.0</text><rect x="1623" y="325" width="2" height="1" fill="#000"/><text x="1628" y="329">3939.0</text><rect x="1623" y="358" width="2" height="1" fill="#000"/><text x="1628" y="362">3913.0</text><rect x="1623" y="391" width="2" height="1" fill="#000"/><text x="1628" y="395">3887.0</text><rect x="1623" y="424" width="2" height="1" fill="#000"/><text x="1628" y="428">3861.0</text><rect x="1623" y="457" width="2" height="1" fill="#000"/><text x="1628" y="461">3835.0</text><rect x="1623" y="490" width="2" height="1" fill="#000"/><text x="1628" y="494">3809.0</text><rect x="1623" y="523" width="2" height="1" fill="#000"/><text x="1628" y="527">3783.0</text><rect x="1623" y="556" width="2" height="1" fill="#000"/><text x="1628" y="560">3757.0</text><rect x="1623" y="563" width="2" height="1" fill="#000"/><text x="1626" y="572">49.42</text><rect x="1623" y="648" width="1" height="1" fill="#000"/><text x="1626" y="652">0.00</text><rect x="1623" y="742" width="2" height="1" fill="#000"/><text x="1626" y="739">-54.17</text></g>
<clipPath id="cl"><rect x="1600" y="0" width="54" height="765"/></clipPath>
<rect x="1657" y="2" width="6" height="761" fill="#ffffff"/>
<rect x="1624" y="140" width="36" height="11" fill="#000"/>
<text x="1628" y="148.5" style="font-family:'Liberation Sans',sans-serif;font-size:9.6px;letter-spacing:-0.2px" fill="#fff" clip-path="url(#cl)">4080.0</text>
<rect x="1624" y="229" width="36" height="11" fill="#000"/>
<text x="1628" y="237.5" style="font-family:'Liberation Sans',sans-serif;font-size:9.6px;letter-spacing:-0.2px" fill="#fff" clip-path="url(#cl)">4010.0</text>
<rect x="1624" y="274" width="36" height="11" fill="#000"/>
<text x="1628" y="282.5" style="font-family:'Liberation Sans',sans-serif;font-size:9.6px;letter-spacing:-0.2px" fill="#fff" clip-path="url(#cl)">3975.1</text>
<rect x="1624" y="317" width="36" height="11" fill="#0000cd"/>
<text x="1628" y="325.5" style="font-family:'Liberation Sans',sans-serif;font-size:9.6px;letter-spacing:-0.2px" fill="#fff" clip-path="url(#cl)">3940.7</text>
<rect x="1624" y="381" width="36" height="11" fill="#0000cd"/>
<text x="1628" y="389.5" style="font-family:'Liberation Sans',sans-serif;font-size:9.6px;letter-spacing:-0.2px" fill="#fff" clip-path="url(#cl)">3890.0</text>
<rect x="1654" y="0" width="1" height="765" fill="#1e1e32" opacity="0.85"/>
<rect x="1655" y="0" width="2" height="765" fill="#ffe62e" opacity="0.85"/>
<g style="font-family:'Liberation Sans',sans-serif;font-size:9.8px;letter-spacing:-0.12px" fill="#000" shape-rendering="geometricPrecision"><rect x="5" y="743" width="1" height="3" fill="#000"/><text x="4" y="755">4 Apr 2023</text><rect x="69" y="743" width="1" height="3" fill="#000"/><text x="68" y="755">11 Apr 05:00</text><rect x="133" y="743" width="1" height="3" fill="#000"/><text x="132" y="755">17 Apr 05:00</text><rect x="197" y="743" width="1" height="3" fill="#000"/><text x="196" y="755">21 Apr 05:00</text><rect x="261" y="743" width="1" height="3" fill="#000"/><text x="260" y="755">27 Apr 05:00</text><rect x="325" y="743" width="1" height="3" fill="#000"/><text x="324" y="755">8 May 05:00</text><rect x="389" y="743" width="1" height="3" fill="#000"/><text x="388" y="755">12 May 05:00</text><rect x="453" y="743" width="1" height="3" fill="#000"/><text x="452" y="755">18 May 05:00</text><rect x="517" y="743" width="1" height="3" fill="#000"/><text x="516" y="755">24 May 05:00</text><rect x="581" y="743" width="1" height="3" fill="#000"/><text x="580" y="755">30 May 05:00</text><rect x="645" y="743" width="1" height="3" fill="#000"/><text x="644" y="755">5 Jun 05:00</text><rect x="709" y="743" width="1" height="3" fill="#000"/><text x="708" y="755">9 Jun 05:00</text><rect x="773" y="743" width="1" height="3" fill="#000"/><text x="772" y="755">15 Jun 05:00</text><rect x="837" y="743" width="1" height="3" fill="#000"/><text x="836" y="755">21 Jun 05:00</text><rect x="901" y="743" width="1" height="3" fill="#000"/><text x="900" y="755">29 Jun 05:00</text><rect x="965" y="743" width="1" height="3" fill="#000"/><text x="964" y="755">5 Jul 05:00</text><rect x="1029" y="743" width="1" height="3" fill="#000"/><text x="1028" y="755">11 Jul 05:00</text><rect x="1093" y="743" width="1" height="3" fill="#000"/><text x="1092" y="755">17 Jul 05:00</text><rect x="1157" y="743" width="1" height="3" fill="#000"/><text x="1156" y="755">21 Jul 05:00</text><rect x="1221" y="743" width="1" height="3" fill="#000"/><text x="1220" y="755">27 Jul 05:00</text><rect x="1285" y="743" width="1" height="3" fill="#000"/><text x="1284" y="755">2 Aug 05:00</text></g>
<path d="M8 11H15L11.5 15Z" fill="#000" shape-rendering="geometricPrecision"/>
<text x="20" y="16" style="font-family:'Liberation Sans',sans-serif;font-size:10px" fill="#000" textLength="65" lengthAdjust="spacingAndGlyphs">CHINA300-,H4</text>
<text x="90.5" y="16" style="font-family:'Liberation Sans',sans-serif;font-size:10px" fill="#000" textLength="123" lengthAdjust="spacingAndGlyphs">3974.1 3988.5 3964.9 3975.1</text>
<text x="9" y="574" style="font-family:'Liberation Sans',sans-serif;font-size:10px" fill="#000" textLength="67" lengthAdjust="spacingAndGlyphs">MACD(12,26,9)</text>
<text x="78" y="574" style="font-family:'Liberation Sans',sans-serif;font-size:10px" fill="#000" textLength="23" lengthAdjust="spacingAndGlyphs">39.26</text>
<text x="103.5" y="574" style="font-family:'Liberation Sans',sans-serif;font-size:10px" fill="#000" textLength="24.5" lengthAdjust="spacingAndGlyphs">35.56</text>
<defs><filter id="sh" x="-30%" y="-30%" width="160%" height="160%"><feGaussianBlur stdDeviation="2.2"/></filter></defs>
<g shape-rendering="geometricPrecision">
<rect x="256" y="101" width="55" height="51" fill="#000" opacity="0.22" filter="url(#sh)"/>
<rect x="257" y="102" width="52" height="26" fill="#fff"/>
<text x="260" y="118" style="font-family:'Liberation Sans',sans-serif;font-size:11px" fill="#a8acb8" textLength="26" lengthAdjust="spacingAndGlyphs">Poi...</text>
<rect x="289" y="104" width="19" height="19" fill="#e3e3e3"/>
<path d="M296.5 110.5L301 115M301 110.5L296.5 115" stroke="#f6f6f6" stroke-width="1"/>
</g>
<rect x="257" y="127" width="52" height="23" fill="#6a6a6a"/>
<rect x="258" y="128" width="49" height="20" fill="#f0f0f0"/>
<g stroke="#000" stroke-width="1" fill="none" shape-rendering="geometricPrecision"><path d="M271.5 134.5H282M270.5 139.5H283.5M275 134.5V139.5Q275 142.5 271.5 145M279.5 134.5V145"/><path d="M286.5 133V136.5M284 136.5H289.5Q289 141.5 284.5 144.5M285 138.5Q288 141 289.5 145"/><path d="M292.5 133.5L290.5 137.5H295.5M294.5 135.5L296 138M291 140.5H295.5V144.5H291Z"/></g>
</svg></body></html>
